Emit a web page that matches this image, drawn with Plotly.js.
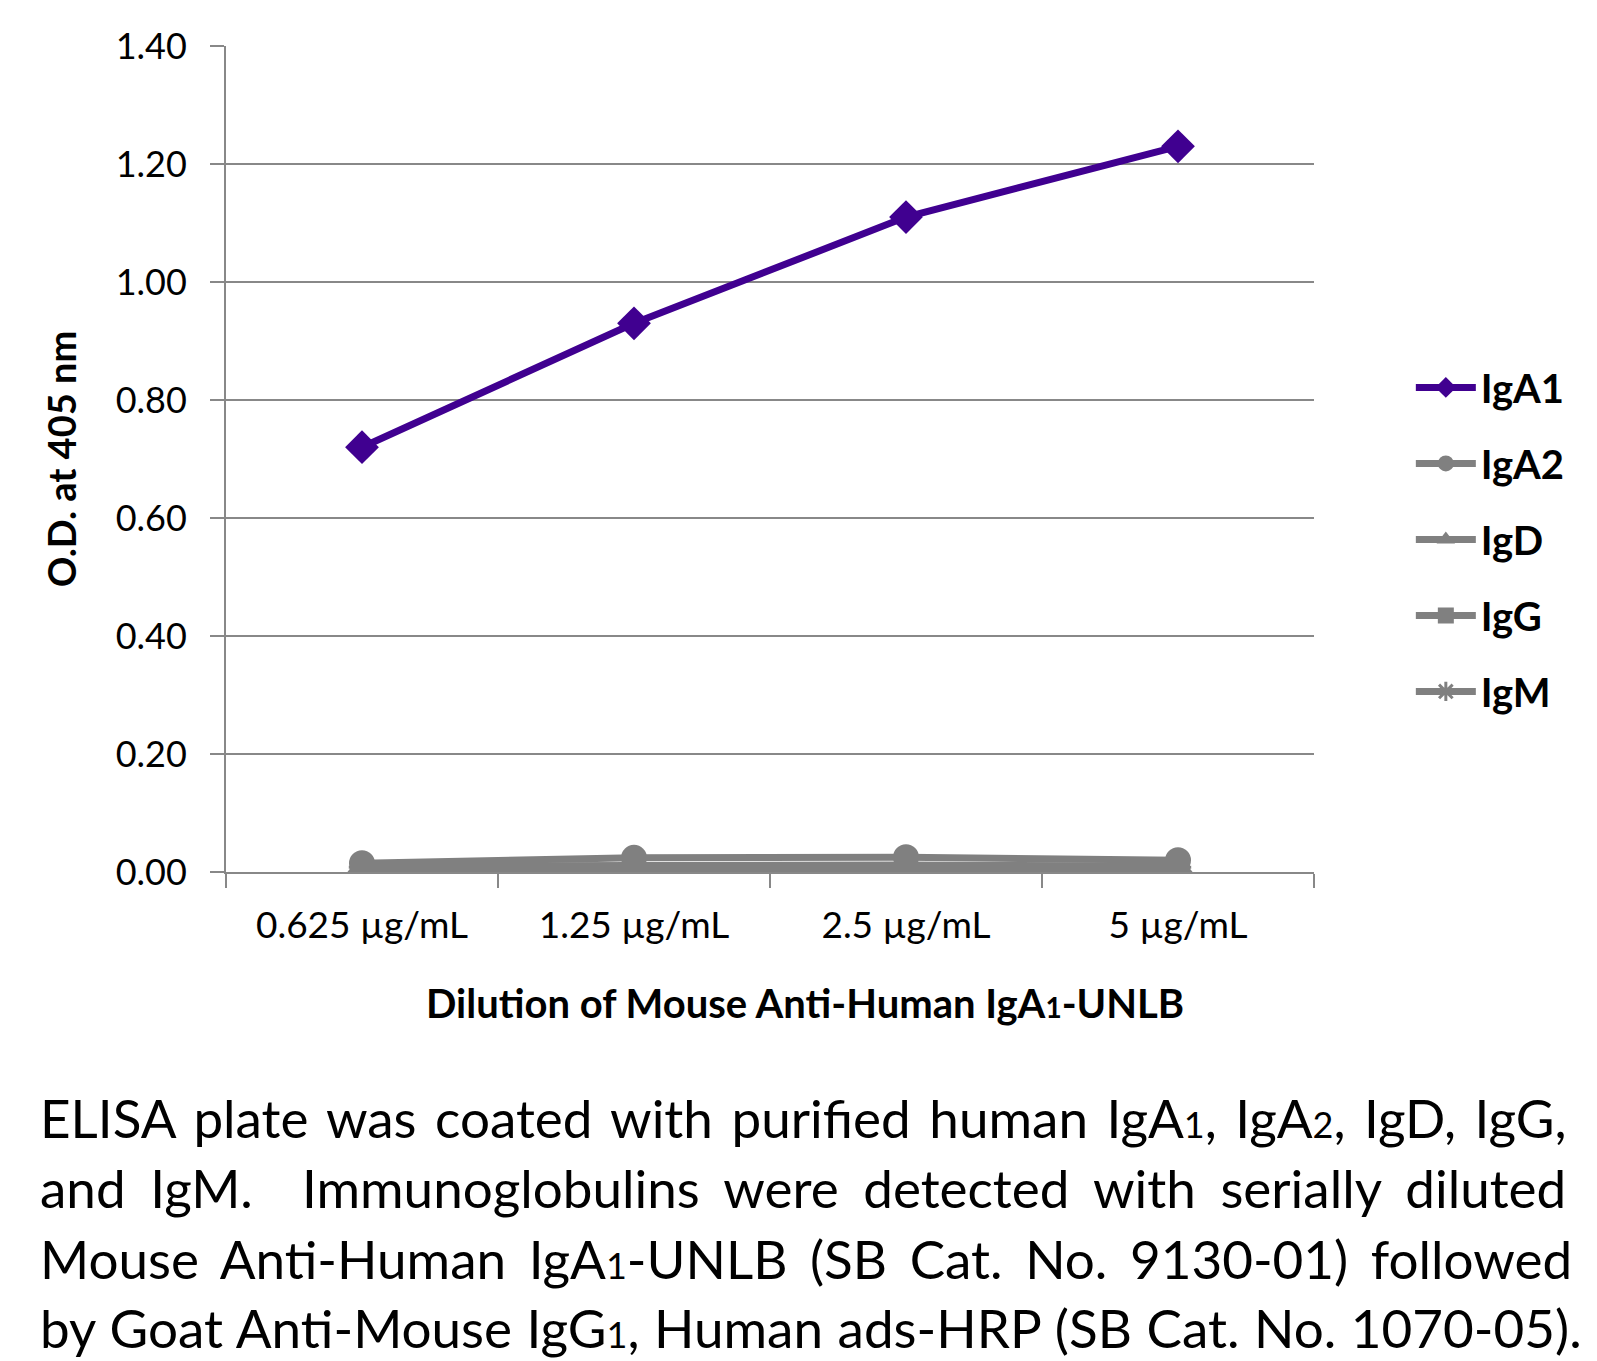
<!DOCTYPE html>
<html><head><meta charset="utf-8">
<script src="https://cdn.plot.ly/plotly-3.0.1.min.js"></script>
<style>html,body{margin:0;padding:0;background:#fff;}#chart{width:1597px;height:1361px;}</style>
</head><body><div id="chart"></div>
<script>
const categories = ["0.625 µg/mL", "1.25 µg/mL", "2.5 µg/mL", "5 µg/mL"];
const seriesNames = ["IgA1", "IgA2", "IgD", "IgG", "IgM"];
const IgA1 = [0.72, 0.93, 1.11, 1.23];
const IgA2 = [0.015, 0.024, 0.025, 0.020];
const IgD = [0.010, 0.012, 0.012, 0.010];
const IgG = [0.003, 0.004, 0.004, 0.003];
const IgM = [0.008, 0.010, 0.010, 0.008];
const yTicks = [0, 0.2, 0.4, 0.6, 0.8, 1.0, 1.2, 1.4];
const yTickLabels = ["0.00", "0.20", "0.40", "0.60", "0.80", "1.00", "1.20", "1.40"];
const xTitle = "<b>Dilution of Mouse Anti-Human IgA<span style=\"font-size:28px\">1</span>-UNLB</b>";
const yTitle = "<b>O.D. at 405 nm</b>";
const sub = d => "<span style=\"font-size:36px\">" + d + "</span>";
const captionLines = [
  "<span style=\"word-spacing:5px\">ELISA plate was coated with purified human IgA" + sub(1) + ", IgA" + sub(2) + ", IgD, IgG,</span>",
  "<span style=\"word-spacing:11px\">and IgM.  Immunoglobulins were detected with serially diluted</span>",
  "<span style=\"word-spacing:9px\">Mouse Anti-Human IgA" + sub(1) + "-UNLB (SB Cat. No. 9130-01) followed</span>",
  "<span style=\"word-spacing:1px\">by Goat Anti-Mouse IgG" + sub(1) + ", Human ads-HRP (SB Cat. No. 1070-05).</span>"
];

const FONT = "Lato, 'Open Sans', sans-serif";
const purple = "#400090";
const gray = "#808080";
const values = [IgA1, IgA2, IgD, IgG, IgM];
const colors = [purple, gray, gray, gray, gray];
const symbols = ["diamond", "circle", "triangle-up", "square", "asterisk-open"];
const sizes = [26, 26, 26, 24, 22];

const traces = values.map((v, i) => ({
  type: "scatter", mode: "lines+markers",
  x: categories, y: v, name: "<b>" + seriesNames[i] + "</b>",
  legendgroup: "g" + i,
  line: {color: colors[i], width: 7},
  marker: {symbol: symbols[i], size: sizes[i], color: colors[i], line: {color: colors[i], width: i === 4 ? 3 : 0}}
}));

const annotations = [
  {xref: "paper", yref: "paper", x: 0.532, y: -0.158, xanchor: "center", yanchor: "middle",
   text: xTitle, showarrow: false, font: {family: FONT, size: 40, color: "#000"}}
];
const capY = [1117, 1187, 1258, 1327];
captionLines.forEach((t, i) => {
  annotations.push({xref: "paper", yref: "paper", x: (38 - 226) / 1088, y: (872 - capY[i]) / 826,
    xanchor: "left", yanchor: "middle", align: "left", text: t, showarrow: false,
    font: {family: FONT, size: 53, color: "#000"}});
});

const layout = {
  width: 1597, height: 1361,
  margin: {l: 226, r: 283, t: 46, b: 489},
  paper_bgcolor: "#fff", plot_bgcolor: "#fff",
  font: {family: FONT, color: "#000"},
  showlegend: true,
  legend: {x: 1.089, y: 0.626, xanchor: "left", yanchor: "top", traceorder: "grouped",
    itemwidth: 60, tracegroupgap: 21, font: {family: FONT, size: 40, color: "#000"}, bgcolor: "rgba(0,0,0,0)"},
  xaxis: {type: "category", range: [-0.5, 3.5], showgrid: false, showline: true,
    linecolor: "#888", linewidth: 2, ticks: "outside", tickson: "boundaries", ticklen: 14,
    tickcolor: "#888", tickwidth: 2, ticklabelstandoff: 20,
    tickfont: {family: FONT, size: 37, color: "#000"}, zeroline: false, fixedrange: true},
  yaxis: {range: [0, 1.4], tickvals: yTicks, ticktext: yTickLabels, showgrid: true,
    gridcolor: "#888", gridwidth: 2, showline: true, linecolor: "#888", linewidth: 2,
    ticks: "outside", ticklen: 14, tickcolor: "#888", tickwidth: 2, zeroline: false,
    ticklabelstandoff: 16,
    tickfont: {family: FONT, size: 36, color: "#000"},
    title: {text: yTitle, font: {family: FONT, size: 38, color: "#000"}, standoff: 27}},
  annotations: annotations
};

Plotly.newPlot("chart", traces, layout, {displayModeBar: false, staticPlot: true});
</script>
</body></html>
